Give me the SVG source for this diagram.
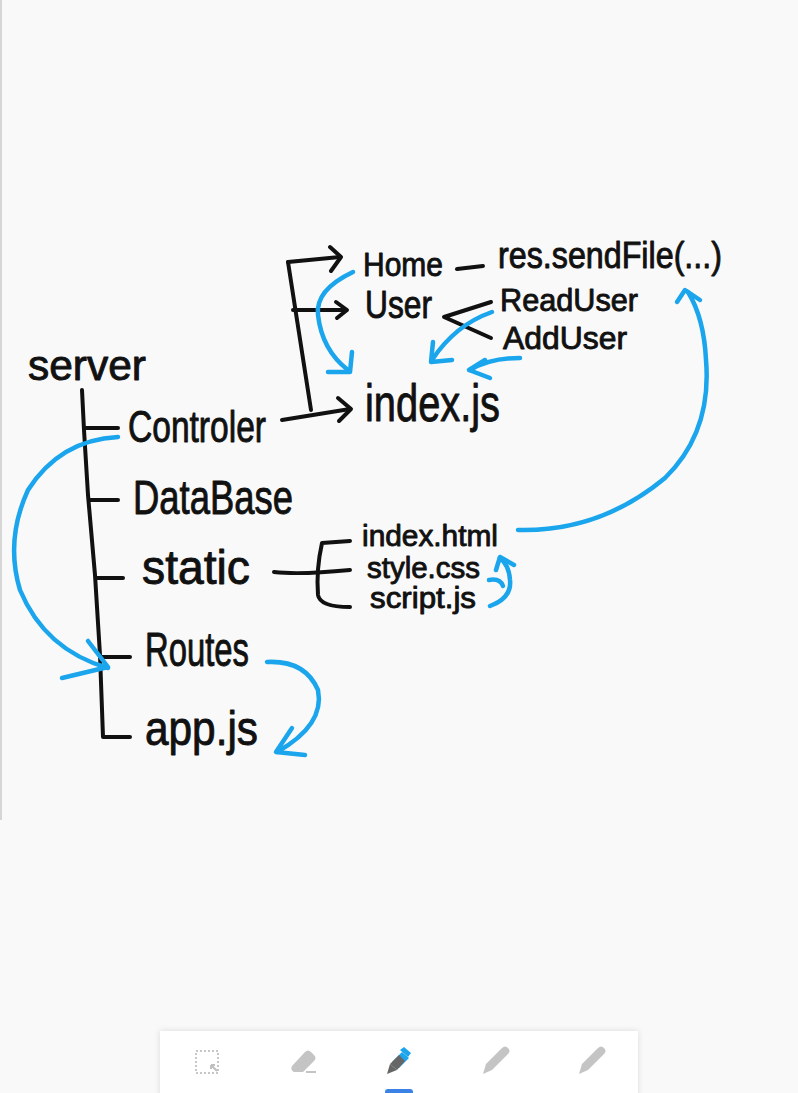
<svg xmlns="http://www.w3.org/2000/svg" width="798" height="1093" viewBox="0 0 798 1093">
<defs>
<style>
.t{font-family:"Liberation Sans",Arial,sans-serif;fill:#111;stroke:#111;stroke-width:0.9;stroke-linejoin:round}
.k{fill:none;stroke:#111;stroke-width:4;stroke-linecap:round;stroke-linejoin:round}
.b{fill:none;stroke:#1aa5ec;stroke-width:4.5;stroke-linecap:round;stroke-linejoin:round}
.g{fill:#c4c4c4}
</style>
<filter id="sh" x="-10%" y="-50%" width="120%" height="200%"><feDropShadow dx="0" dy="0" stdDeviation="3" flood-color="#000" flood-opacity="0.12"/></filter>
</defs>
<rect width="798" height="1093" fill="#f9f9f9"/>
<rect x="0" y="0" width="2" height="820" fill="#d6d6d6"/>

<g id="connectors">
<path class="k" d="M82 390 L84 430 L88 495 L95 575 L100 655 L103 737 L130 737"/>
<path class="k" d="M85 428 L118 428"/>
<path class="k" d="M90 500 L118 500"/>
<path class="k" d="M96 578 L123 578"/>
<path class="k" d="M100 657 L130 657"/>
<path class="k" d="M282 420 L350 409"/>
<path class="k" d="M338 398 L351 409 L339 421"/>
<path class="k" d="M288 262 L311 410" stroke-width="5"/>
<path class="k" d="M288 262 L340 257" stroke-width="5"/>
<path class="k" d="M330 247 L341 257 L331 271"/>
<path class="k" d="M293 310 L346 310"/>
<path class="k" d="M336 302 L347 310 L337 318"/>
<path class="k" d="M457 269 L483 266"/>
<path class="k" d="M491 302 L444 317 L491 338"/>
<path class="k" d="M274 572 Q300 575 350 570"/>
<path class="k" d="M350 541 L322 543 Q316 570 318 595 Q320 607 350 607"/>
<path class="b" d="M353 272 Q315 290 318 315 Q322 350 348 370"/>
<path class="b" d="M328 372 L350 372 L352 352"/>
<path class="b" d="M492 312 Q455 325 432 360"/>
<path class="b" d="M433 342 L431 362 L452 360"/>
<path class="b" d="M520 358 Q490 358 470 370"/>
<path class="b" d="M485 360 L469 370 L490 378"/>
<path class="b" d="M518 530 Q600 532 665 478 Q712 432 706 360 Q704 318 688 292"/>
<path class="b" d="M677 302 L685 290 L700 300"/>
<path class="b" d="M490 606 Q512 598 510 580 Q509 565 500 558"/>
<path class="b" d="M489 580 Q500 578 503 586"/>
<path class="b" d="M496 570 L500 557 L514 565"/>
<path class="b" d="M118 437 Q60 440 28 490 Q5 540 20 590 Q45 650 108 668"/>
<path class="b" d="M88 641 L108 667 L62 678"/>
<path class="b" d="M267 662 Q305 660 318 690 Q325 725 277 752"/>
<path class="b" d="M292 728 L276 752 L305 755"/>
</g>

<g id="server"><text class="t" x="28" y="380" font-size="42" textLength="118" lengthAdjust="spacingAndGlyphs">server</text></g>
<g id="controler"><text class="t" x="128" y="442" font-size="44" textLength="138" lengthAdjust="spacingAndGlyphs">Controler</text></g>
<g id="database"><text class="t" x="133" y="514" font-size="48" textLength="160" lengthAdjust="spacingAndGlyphs">DataBase</text></g>
<g id="static"><text class="t" x="142" y="584" font-size="48" textLength="108" lengthAdjust="spacingAndGlyphs">static</text></g>
<g id="routes"><text class="t" x="145" y="666" font-size="48" textLength="104" lengthAdjust="spacingAndGlyphs">Routes</text></g>
<g id="appjs"><text class="t" x="145" y="745" font-size="48" textLength="113" lengthAdjust="spacingAndGlyphs">app.js</text></g>
<g id="home"><text class="t" x="363" y="276" font-size="34" textLength="80" lengthAdjust="spacingAndGlyphs">Home</text></g>
<g id="sendfile"><text class="t" x="498" y="268" font-size="36" textLength="224" lengthAdjust="spacingAndGlyphs">res.sendFile(...)</text></g>
<g id="user"><text class="t" x="365" y="318" font-size="38" textLength="67" lengthAdjust="spacingAndGlyphs">User</text></g>
<g id="readuser"><text class="t" x="500" y="311" font-size="32" textLength="138" lengthAdjust="spacingAndGlyphs">ReadUser</text></g>
<g id="adduser"><text class="t" x="503" y="349" font-size="32" textLength="124" lengthAdjust="spacingAndGlyphs">AddUser</text></g>
<g id="indexjs"><text class="t" x="365" y="421" font-size="52" textLength="135" lengthAdjust="spacingAndGlyphs">index.js</text></g>
<g id="indexhtml"><text class="t" x="362" y="546" font-size="30" textLength="136" lengthAdjust="spacingAndGlyphs">index.html</text></g>
<g id="stylecss"><text class="t" x="367" y="578" font-size="30" textLength="113" lengthAdjust="spacingAndGlyphs">style.css</text></g>
<g id="scriptjs"><text class="t" x="370" y="608" font-size="30" textLength="106" lengthAdjust="spacingAndGlyphs">script.js</text></g>

<g id="toolbar">
<rect x="160" y="1031" width="478" height="70" fill="#ffffff" filter="url(#sh)"/>
<rect x="196" y="1051" width="22" height="22" fill="none" stroke="#c8c8c8" stroke-width="2" stroke-dasharray="2 2"/>
<path d="M211 1065 L217 1071 M211 1065 L215 1065 M211 1065 L211 1069" stroke="#c0c0c0" stroke-width="2" fill="none"/>
<path class="g" d="M292 1066 L305 1052 Q308 1049 311 1052 L314 1055 Q317 1058 314 1061 L303 1072 L294 1072 Q290 1070 292 1066 Z"/>
<rect x="306" y="1071" width="10" height="2" fill="#c4c4c4"/>
<path d="M392 1062 L402 1052 L409 1058 L399 1068 Z" fill="#1aa5ec"/>
<path d="M400 1050 L404 1047 L411 1053 L408 1057 Z" fill="#1aa5ec"/>
<path d="M387 1074 L390 1064 L397 1070 Z" fill="#666"/>
<path d="M390 1064 L399 1055 L405 1061 L397 1070 Z" fill="#666"/>
<path class="g" d="M483 1074 L486 1064 L502 1048 Q505 1045 508 1048 Q511 1051 508 1054 L492 1070 Z"/>
<path class="g" d="M579 1074 L582 1064 L598 1048 Q601 1045 604 1048 Q607 1051 604 1054 L588 1070 Z"/>
<rect x="385" y="1089" width="28" height="8" rx="3" fill="#3b82e6"/>
</g>
</svg>
